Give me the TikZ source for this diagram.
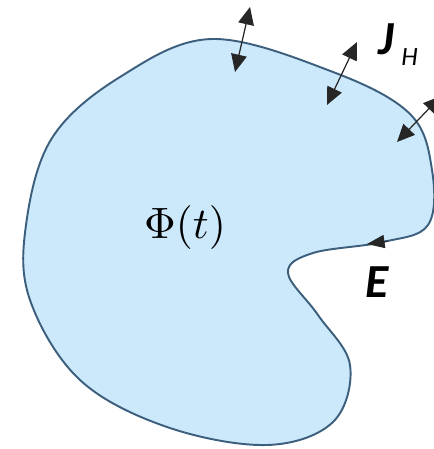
\documentclass[tikz,border=0pt]{standalone}
\usepackage{fontspec}
\newfontfamily\calibfont{Carlito}
\usetikzlibrary{arrows.meta}

\definecolor{regionfill}{RGB}{204,233,251}
\definecolor{regionedge}{RGB}{60,95,125}

\begin{document}
\begin{tikzpicture}[
    x=0.02cm, y=-0.02cm,
    % one style per kind of mark: the outline, the flux arrows, the labels
    region/.style = {draw=regionedge, fill=regionfill, line width=1.1pt},
    flux/.style   = {{Triangle[length=10pt,width=9pt]}-{Triangle[length=10pt,width=9pt]}, line width=0.7pt, black!85},
    lbl/.style    = {inner sep=0pt, anchor=base west, font=\calibfont\bfseries\itshape\fontsize{27}{30}\selectfont},
    sub/.style    = {inner sep=0pt, anchor=base west, font=\calibfont\itshape\fontsize{15}{17}\selectfont},
  ]
  \useasboundingbox (0,0) rectangle (433,449);

  %% ---------- the region Phi(t) ----------
  \draw[region] plot[smooth cycle, tension=0.6] coordinates {
    (212,39) (333,72) (410,114) (432,170) (428,225) (383,242)
    (313,253) (288,273) (318,315) (350,365) (333,422) (267,445)
    (167,427) (80,380) (30,300) (26,225) (52,138) (120,77)
  };

  \node[scale=2.5, inner sep=0pt, anchor=base] (phi) at (185,238) {$\Phi(t)$};

  %% ---------- flux J_H across the boundary ----------
  \coordinate (j1out) at (250,7);   \coordinate (j1in) at (235,72);
  \coordinate (j2out) at (357,42);  \coordinate (j2in) at (327,105);
  \coordinate (j3out) at (441,96);  \coordinate (j3in) at (397,142);
  \draw[flux] (j1in) -- (j1out);
  \draw[flux] (j2in) -- (j2out);
  \draw[flux] (j3in) -- (j3out);

  \node[lbl] (jlab) at (378,55) {J};
  \node[sub] (hlab) at (401,66) {H};

  %% ---------- edge E along the boundary ----------
  \coordinate (ebeg) at (388,241);
  \coordinate (eend) at (367,244);
  \draw[-{Triangle[length=10pt,width=7.5pt]}, line width=0.6pt, black!85] (ebeg) -- (eend);

  \node[lbl] (elab) at (365,297) {E};
\end{tikzpicture}
\end{document}
